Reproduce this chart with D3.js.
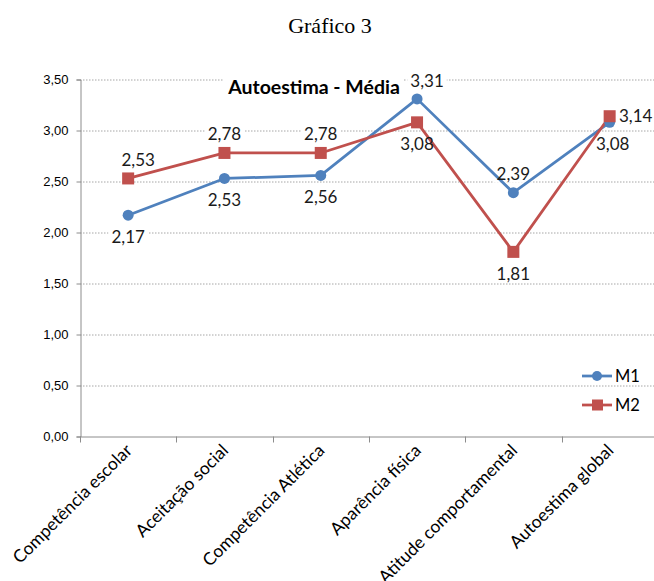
<!DOCTYPE html>
<html>
<head>
<meta charset="utf-8">
<script src="https://cdn.jsdelivr.net/npm/d3@7"></script>
<style>
  html, body { margin: 0; padding: 0; background: #fff; }
  svg { display: block; }
</style>
</head>
<body>
<script>
// Autoestima scores by domain for two groups
const categories = ["Competência escolar", "Aceitação social", "Competência Atlética",
                    "Aparência física", "Atitude comportamental", "Autoestima global"];
const m1Values = [2.17, 2.53, 2.56, 3.31, 2.39, 3.08];
const m2Values = [2.53, 2.78, 2.78, 3.08, 1.81, 3.14];
const yTicks = [0, 0.5, 1, 1.5, 2, 2.5, 3, 3.5];

// where each value label sits relative to its marker
const m1LabelSide = ["below", "below", "below", "aboveRight", "above", "belowRight"];
const m2LabelSide = ["aboveRight", "above", "above", "below", "below", "right"];

const W = 654, H = 581;
const margin = { left: 80, top: 79.5, bottom: 436.5 };
const band = 96.3;

const svg = d3.select("body").append("svg").attr("width", W).attr("height", H);

const x = d3.scaleBand().domain(categories)
  .range([margin.left, margin.left + band * categories.length]);
const y = d3.scaleLinear().domain([0, 3.5]).range([margin.bottom, margin.top]);
const fmt = v => d3.format(".2f")(v).replace(".", ",");
const cx = c => x(c) + x.bandwidth() / 2;

const blue = "#4F81BD", red = "#C0504D";
const labelFont = "Lato, 'Open Sans', sans-serif";

// page heading
svg.append("text").attr("x", 330).attr("y", 33).attr("text-anchor", "middle")
  .style("font-family", "'Liberation Serif', 'Times New Roman', serif")
  .style("font-size", "22px").text("Gráfico 3");

// gridlines
svg.append("g").selectAll("line").data(yTicks.filter(d => d > 0)).join("line")
  .attr("x1", margin.left).attr("x2", W)
  .attr("y1", d => y(d) + 0.5).attr("y2", d => y(d) + 0.5)
  .attr("stroke", "#a6a6a6").attr("stroke-width", 1).attr("stroke-dasharray", "1.5,1.5");

// y axis
const yAxis = svg.append("g").attr("transform", `translate(${margin.left + 0.5},0)`)
  .call(d3.axisLeft(y).tickValues(yTicks).tickFormat(fmt).tickSize(4).tickPadding(8));
yAxis.select(".domain").attr("stroke", "#8c8c8c");
yAxis.selectAll(".tick line").attr("stroke", "#8c8c8c");
yAxis.selectAll("text").attr("fill", "#000")
  .style("font-family", "'Liberation Sans', Arial, sans-serif").style("font-size", "13px");

// x axis
const xAxis = svg.append("g").attr("transform", `translate(0,${margin.bottom + 0.5})`)
  .call(d3.axisBottom(x).tickSize(0).tickFormat(""));
xAxis.select(".domain").attr("stroke", "#8c8c8c").attr("d", `M${margin.left},0H${W}`);
svg.append("g").selectAll("line")
  .data(d3.range(categories.length + 1).map(i => margin.left + band * i))
  .join("line")
  .attr("x1", d => Math.round(d) + 0.5).attr("x2", d => Math.round(d) + 0.5)
  .attr("y1", margin.bottom).attr("y2", margin.bottom + 6)
  .attr("stroke", "#8c8c8c");

// rotated category labels
svg.append("g").selectAll("text").data(categories).join("text")
  .attr("transform", d => `translate(${cx(d) + 5},${margin.bottom + 15}) rotate(-45)`)
  .attr("text-anchor", "end")
  .style("font-family", labelFont).style("font-size", "17.5px").attr("fill", "#000")
  .text(d => d);

// chart title (white backing hides the gridline beneath)
const title = svg.append("g");
const tt = title.append("text").attr("x", 314).attr("y", 94).attr("text-anchor", "middle")
  .style("font-family", labelFont).style("font-weight", "bold").style("font-size", "19.5px")
  .text("Autoestima - Média");
const tb = tt.node().getBBox();
title.insert("rect", "text").attr("x", tb.x - 4).attr("y", tb.y).attr("width", tb.width + 8)
  .attr("height", tb.height).attr("fill", "#fff");

const series = [
  { name: "M1", values: m1Values, sides: m1LabelSide, color: blue, shape: "circle" },
  { name: "M2", values: m2Values, sides: m2LabelSide, color: red, shape: "square" }
];

const offsets = {
  below: [0, 28], above: [0, -13], aboveRight: [10, -12],
  belowRight: [3, 28], right: [26, 6]
};

const bgLayer = svg.append("g");
const lineLayer = svg.append("g");
const markLayer = svg.append("g");
const textLayer = svg.append("g");

const line = d3.line().x((d, i) => cx(categories[i])).y(d => y(d));

series.forEach(s => {
  lineLayer.append("path").datum(s.values).attr("d", line)
    .attr("fill", "none").attr("stroke", s.color).attr("stroke-width", 2.75)
    .attr("stroke-linejoin", "round");
});

series.forEach(s => {
  s.values.forEach((v, i) => {
    const px = cx(categories[i]), py = y(v);
    if (s.shape === "circle") {
      markLayer.append("circle").attr("cx", px).attr("cy", py).attr("r", 5.5).attr("fill", s.color);
    } else {
      markLayer.append("rect").attr("x", px - 6).attr("y", py - 6).attr("width", 12).attr("height", 12)
        .attr("fill", s.color);
    }
    const [dx, dy] = offsets[s.sides[i]];
    const t = textLayer.append("text").attr("x", px + dx).attr("y", py + dy)
      .attr("text-anchor", "middle")
      .style("font-family", labelFont).style("font-size", "17px").attr("fill", "#1a1a1a")
      .text(fmt(v));
    const b = t.node().getBBox();
    bgLayer.append("rect").attr("x", b.x - 3).attr("y", b.y + 2).attr("width", b.width + 6)
      .attr("height", b.height - 3).attr("fill", "#fff");
  });
});

// legend
const legend = svg.append("g");
series.forEach((s, i) => {
  const ly = 376 + i * 29;
  legend.append("line").attr("x1", 582).attr("x2", 612).attr("y1", ly).attr("y2", ly)
    .attr("stroke", s.color).attr("stroke-width", 2.75);
  if (s.shape === "circle") {
    legend.append("circle").attr("cx", 597).attr("cy", ly).attr("r", 5).attr("fill", s.color);
  } else {
    legend.append("rect").attr("x", 592).attr("y", ly - 5.5).attr("width", 11).attr("height", 11)
      .attr("fill", s.color);
  }
  legend.append("text").attr("x", 615).attr("y", ly + 6)
    .style("font-family", labelFont).style("font-size", "16.5px").attr("fill", "#000").text(s.name);
});
</script>
</body>
</html>
